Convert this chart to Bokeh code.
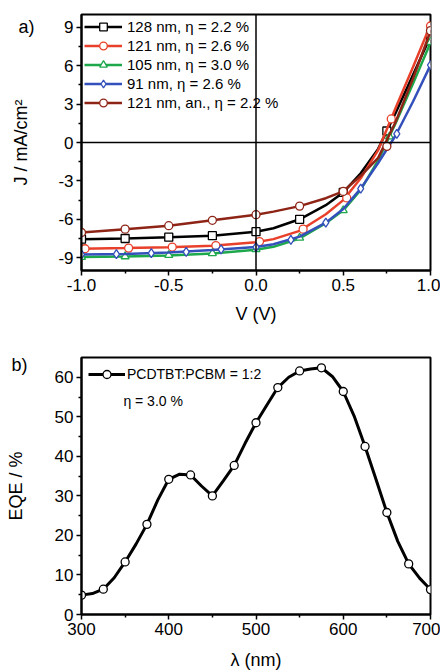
from bokeh.plotting import figure
from bokeh.layouts import column
from bokeh.models import FixedTicker, Span, Label, LinearAxis
from bokeh.embed import file_html
from bokeh.resources import INLINE

# ---------------- Panel a data (J-V curves) ----------------
v_grid = [-1.0, -0.75, -0.5, -0.25, 0.0, 0.1, 0.25, 0.4, 0.5, 0.6, 0.7, 0.8, 0.9, 1.0]
black_j = [-7.55, -7.5, -7.4, -7.28, -6.97, -6.7, -6.0, -4.9, -3.9, -2.4, -0.5, 2.3, 5.3, 8.3]
red_j = [-8.3, -8.25, -8.18, -8.07, -7.8, -7.55, -6.9, -5.6, -4.5, -2.8, -0.6, 2.7, 5.9, 9.2]
green_j = [-8.95, -8.9, -8.82, -8.68, -8.38, -8.15, -7.5, -6.3, -5.3, -3.7, -1.4, 1.5, 4.6, 7.8]
blue_j = [-8.75, -8.72, -8.6, -8.4, -8.17, -7.95, -7.35, -6.26, -5.2, -3.6, -1.6, 0.55, 3.2, 6.05]
dred_j = [-7.03, -6.77, -6.5, -6.08, -5.64, -5.4, -4.97, -4.35, -3.82, -2.6, -1.2, 1.6, 5.0, 8.7]

black_mv = [-1.0, -0.75, -0.5, -0.25, 0.0, 0.25, 0.5, 0.75, 1.0]
black_mj = [-7.55, -7.5, -7.4, -7.28, -6.97, -6.0, -3.9, 0.9, 8.3]
red_mv = [-0.98, -0.73, -0.48, -0.23, 0.02, 0.27, 0.52, 0.775, 1.0]
red_mj = [-8.3, -8.25, -8.17, -8.05, -7.74, -6.77, -4.33, 1.84, 9.1]
green_mv = [-1.0, -0.75, -0.5, -0.25, 0.0, 0.25, 0.5, 0.765, 1.0]
green_mj = [-8.95, -8.9, -8.8, -8.65, -8.35, -7.45, -5.3, 0.46, 7.85]
blue_mv = [-1.0, -0.8, -0.6, -0.4, -0.2, 0.0, 0.2, 0.4, 0.6, 0.807, 1.0]
blue_mj = [-8.75, -8.72, -8.65, -8.55, -8.35, -8.17, -7.6, -6.26, -3.6, 0.67, 6.05]
dred_mv = [-1.0, -0.75, -0.5, -0.25, 0.0, 0.25, 0.5, 0.75, 1.0]
dred_mj = [-7.03, -6.77, -6.5, -6.08, -5.64, -4.97, -3.82, -0.3, 8.74]

labels_a = ["128 nm, \u03b7 = 2.2 %", "121 nm, \u03b7 = 2.6 %", "105 nm, \u03b7 = 3.0 %",
            "91 nm, \u03b7 = 2.6 %", "121 nm, an., \u03b7 = 2.2 %"]

xa_ticks = [-1.0, -0.5, 0.0, 0.5, 1.0]
xa_minor = [-0.75, -0.25, 0.25, 0.75]
xa_labels = ["-1.0", "-0.5", "0.0", "0.5", "1.0"]
ya_ticks = [-9, -6, -3, 0, 3, 6, 9]
ya_minor = [-10.5, -7.5, -4.5, -1.5, 1.5, 4.5, 7.5]
ya_labels = ["-9", "-6", "-3", "0", "3", "6", "9"]

# ---------------- Panel b data (EQE) ----------------
wl = [300, 325, 350, 375, 400, 425, 450, 475, 500, 525, 550, 575, 600, 625, 650, 675, 700]
eqe = [4.9, 6.4, 13.3, 22.8, 34.2, 35.3, 30.0, 37.7, 48.5, 57.4, 61.6, 62.4, 56.4, 42.5, 25.8, 12.8, 6.3]
wl_line = [300, 312.5, 325, 337.5, 350, 362.5, 375, 387.5, 400, 412.5, 425, 437.5, 450,
           462.5, 475, 487.5, 500, 512.5, 525, 537.5, 550, 562.5, 575, 587.5, 600,
           612.5, 625, 637.5, 650, 662.5, 675, 687.5, 700]
eqe_line = [4.9, 5.3, 6.4, 9.3, 13.3, 17.8, 22.8, 29.0, 34.2, 35.5, 35.3, 32.5, 30.0,
            33.8, 37.7, 43.3, 48.5, 53.0, 57.4, 60.0, 61.6, 62.1, 62.4, 60.2, 56.4,
            50.2, 42.5, 34.2, 25.8, 18.5, 12.8, 9.2, 6.3]
label_b = "PCDTBT:PCBM = 1:2"
label_b2 = "\u03b7 = 3.0 %"
xb_ticks = [300, 400, 500, 600, 700]
xb_minor = [350, 450, 550, 650]
yb_ticks = [0, 10, 20, 30, 40, 50, 60]
yb_minor = [5, 15, 25, 35, 45, 55]

FONT = "Liberation Sans"


def style_axis(ax):
    ax.axis_line_width = 2
    ax.axis_line_color = "black"
    ax.major_tick_in = 0
    ax.major_tick_out = 5
    ax.minor_tick_in = 0
    ax.minor_tick_out = 3
    ax.major_tick_line_width = 1.5
    ax.minor_tick_line_width = 1.5
    ax.major_label_text_font = FONT
    ax.major_label_text_font_size = "17px"
    ax.major_label_text_color = "black"
    ax.axis_label_text_font = FONT
    ax.axis_label_text_font_size = "18px"
    ax.axis_label_text_font_style = "normal"
    ax.axis_label_text_color = "black"
    ax.major_label_standoff = 3
    ax.axis_label_standoff = 6


def style(p, xt, xm, yt, ym, xlab=None, ylab=None):
    p.xgrid.visible = False
    p.ygrid.visible = False
    p.outline_line_color = "black"
    p.outline_line_width = 2
    p.background_fill_color = "white"
    p.border_fill_color = "white"
    p.xaxis.ticker = FixedTicker(ticks=xt, minor_ticks=xm)
    p.yaxis.ticker = FixedTicker(ticks=yt, minor_ticks=ym)
    if xlab:
        p.xaxis.major_label_overrides = {t: l for t, l in zip(xt, xlab)}
    if ylab:
        p.yaxis.major_label_overrides = {t: l for t, l in zip(yt, ylab)}
    style_axis(p.xaxis[0])
    style_axis(p.yaxis[0])


def panel_axis(p, tick, text, title, tick_standoff, title_standoff):
    # outer left axis carrying the panel letter (as its only tick label) and the y title
    ax = LinearAxis(ticker=FixedTicker(ticks=[tick], minor_ticks=[]),
                    major_label_overrides={tick: text}, axis_label=title)
    style_axis(ax)
    ax.axis_line_alpha = 0
    ax.major_tick_out = 0
    ax.minor_tick_out = 0
    ax.major_label_text_font_size = "18px"
    ax.major_label_standoff = tick_standoff
    ax.axis_label_standoff = title_standoff
    p.add_layout(ax, "left")


# ---------------- Figure a ----------------
pa = figure(width=440, height=326, x_range=(-1.0, 1.0), y_range=(-10.0, 10.0),
            output_backend="svg", toolbar_location=None,
            min_border_left=79, min_border_right=10, min_border_top=14, min_border_bottom=53,
            x_axis_label="V (V)")
style(pa, xa_ticks, xa_minor, ya_ticks, ya_minor, xa_labels, ya_labels)
pa.xaxis[0].axis_label_standoff = 10
panel_axis(pa, 9, "a)", "J / mA/cm\u00b2", 21, -16)

pa.add_layout(Span(location=0, dimension="height", line_color="black", line_width=1.5))
pa.add_layout(Span(location=0, dimension="width", line_color="black", line_width=1.5))

series = [
    (black_j, black_mv, black_mj, "#000000", "square", labels_a[0]),
    (red_j, red_mv, red_mj, "#e8402a", "circle", labels_a[1]),
    (green_j, green_mv, green_mj, "#1ea84c", "triangle", labels_a[2]),
    (blue_j, blue_mv, blue_mj, "#3350bb", "diamond", labels_a[3]),
    (dred_j, dred_mv, dred_mj, "#8e2416", "circle", labels_a[4]),
]
for lj, mv, mj, col, mk, lab in series:
    pa.line(v_grid, lj, line_color=col, line_width=2.5, legend_label=lab)
    pa.scatter(mv, mj, marker=mk, size=8 if mk != "diamond" else 9, fill_color="white",
               line_color=col, line_width=1.3, legend_label=lab)

lg = pa.legend[0]
lg.location = "top_left"
lg.margin = 3
lg.padding = 0
lg.spacing = 0
lg.border_line_alpha = 0
lg.background_fill_alpha = 0
lg.glyph_width = 38
lg.glyph_height = 19
lg.label_height = 19
lg.label_standoff = 5
lg.label_text_font = FONT
lg.label_text_font_size = "15px"
lg.label_text_color = "black"

# ---------------- Figure b ----------------
pb = figure(width=440, height=346, x_range=(300, 700), y_range=(0, 65),
            output_backend="svg", toolbar_location=None,
            min_border_left=81, min_border_right=10, min_border_top=31, min_border_bottom=57,
            x_axis_label="\u03bb (nm)")
style(pb, xb_ticks, xb_minor, yb_ticks, yb_minor)
pb.xaxis[0].axis_label_standoff = 12
panel_axis(pb, 63, "b)", "EQE / %", 24, -18)

pb.line(wl_line, eqe_line, line_color="black", line_width=3, legend_label=label_b)
pb.scatter(wl, eqe, marker="circle", size=8, fill_color="white", line_color="black",
           line_width=1.3, legend_label=label_b)
lb = pb.legend[0]
lb.location = "top_left"
lb.margin = 7
lb.padding = 0
lb.border_line_alpha = 0
lb.background_fill_alpha = 0
lb.glyph_width = 37
lb.glyph_height = 20
lb.label_height = 20
lb.label_standoff = 2
lb.label_text_font = FONT
lb.label_text_font_size = "14px"
lb.label_text_color = "black"

pb.add_layout(Label(x=348, y=53.9, text=label_b2, text_font=FONT, text_font_size="14px",
                    text_baseline="middle", text_color="black"))

layout = column(pa, pb, spacing=0)
open("out.html", "w").write(file_html(layout, INLINE))
